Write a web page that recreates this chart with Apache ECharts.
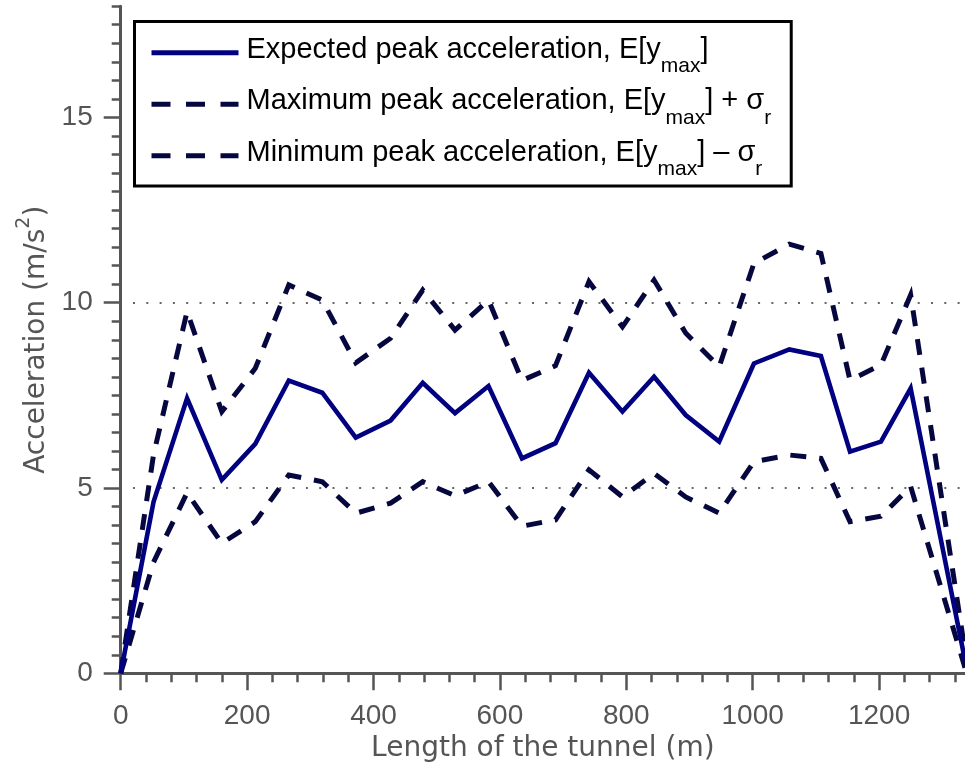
<!DOCTYPE html>
<html>
<head>
<meta charset="utf-8">
<script src="https://cdn.jsdelivr.net/npm/echarts@6/dist/echarts.min.js"></script>
<style>
  html, body { margin: 0; padding: 0; background: #ffffff; }
  #chart { width: 965px; height: 772px; }
</style>
</head>
<body>
<div id="chart"></div>
<script>
// Position along the tunnel (m)
const distance = [0, 52, 105, 160, 213, 266, 319, 372, 427, 478, 529, 582, 635, 688, 741, 794, 844, 894, 947, 1002, 1058, 1108, 1154, 1203, 1250, 1336];

// Peak acceleration (m/s^2)
const expectedPeak = [0, 4.63, 7.42, 5.22, 6.19, 7.90, 7.57, 6.36, 6.82, 7.84, 7.02, 7.75, 5.80, 6.21, 8.11, 7.06, 8.00, 6.97, 6.25, 8.36, 8.74, 8.56, 5.98, 6.25, 7.69, 0.35];
const maximumPeak  = [0, 5.90, 9.76, 7.06, 8.23, 10.48, 10.07, 8.38, 9.04, 10.34, 9.26, 10.07, 7.90, 8.30, 10.57, 9.35, 10.61, 9.18, 8.27, 11.06, 11.58, 11.33, 7.91, 8.32, 10.21, 0.60];
const minimumPeak  = [0, 3.00, 4.87, 3.51, 4.09, 5.35, 5.17, 4.32, 4.59, 5.17, 4.79, 5.17, 3.97, 4.14, 5.49, 4.76, 5.39, 4.76, 4.32, 5.71, 5.89, 5.80, 4.09, 4.24, 5.04, 0.15];

// Axis ticks
const xMajorTicks = [0, 200, 400, 600, 800, 1000, 1200];
const yMajorTicks = [0, 5, 10, 15];
const xMinorStep = 40;
const yMinorStep = 0.5;
const xMax = 1336;
const yMax = 18;

const seriesNames = [
  'Expected peak acceleration',
  'Maximum peak acceleration',
  'Minimum peak acceleration'
];
const legendLabels = [
  '{t|Expected peak acceleration, E[y}{sub|max}{t|]}',
  '{t|Maximum peak acceleration, E[y}{sub|max}{t|] + σ}{sub|r}',
  '{t|Minimum peak acceleration, E[y}{sub|max}{t|] – σ}{sub|r}'
];

const xMinorTicks = [];
for (let v = xMinorStep; v < xMax; v += xMinorStep) {
  if (v % 200 !== 0) xMinorTicks.push(v);
}
const yMinorTicks = [];
for (let v = yMinorStep; v <= yMax + 1e-9; v += yMinorStep) {
  const r = Math.round(v * 10) / 10;
  if (r % 5 !== 0) yMinorTicks.push(r);
}

const solidColor = '#000080';
const dashColor = '#07073f';
const axisColor = '#555555';
const dashPattern = [16, 13];
const lineW = 5;

// Legend keys drawn as filled strips: one bar for the solid line, three for the dashed ones
const solidKey = 'path://M0,0H87V5H0Z';
const dashedKey = 'path://M0,0H19V5H0Z M34.5,0H53.5V5H34.5Z M69,0H87V5H69Z';

const pairs = vals => distance.map((d, i) => [d, vals[i]]);

const chart = echarts.init(document.getElementById('chart'), null, { renderer: 'canvas' });

const labelFont = 'Liberation Sans';
const titleFont = 'DejaVu Sans';

chart.setOption({
  animation: false,
  backgroundColor: '#ffffff',
  grid: {
    left: 120.7, right: 0, top: 6.2, bottom: 98.7,
    containLabel: false,
    outerBoundsMode: 'none'
  },
  legend: {
    orient: 'vertical',
    left: 134.5,
    top: 21.5,
    padding: [13.7, 20, 5.8, 17],
    itemGap: 9.5,
    itemWidth: 87,
    itemHeight: 5,
    symbolKeepAspect: false,
    selectedMode: false,
    backgroundColor: '#ffffff',
    borderColor: '#000000',
    borderWidth: 3,
    borderRadius: 0,
    data: [
      { name: seriesNames[0], icon: solidKey, itemStyle: { color: solidColor, borderWidth: 0 } },
      { name: seriesNames[1], icon: dashedKey, itemStyle: { color: dashColor, borderWidth: 0 } },
      { name: seriesNames[2], icon: dashedKey, itemStyle: { color: dashColor, borderWidth: 0 } }
    ],
    formatter: name => legendLabels[seriesNames.indexOf(name)],
    textStyle: {
      fontFamily: labelFont,
      fontSize: 29,
      color: '#000000',
      padding: [0, 0, 0, 3],
      rich: {
        t: { fontFamily: labelFont, fontSize: 29, lineHeight: 35, verticalAlign: 'top', color: '#000000' },
        sub: { fontFamily: labelFont, fontSize: 21, lineHeight: 21, padding: [21, 0, 0, 0], verticalAlign: 'top', color: '#000000' }
      }
    }
  },
  xAxis: [
    {
      type: 'value',
      min: 0,
      max: xMax,
      position: 'bottom',
      name: 'Length of the tunnel (m)',
      nameLocation: 'middle',
      nameGap: 61,
      nameTextStyle: { fontFamily: titleFont, fontSize: 28, color: axisColor },
      axisLine: { show: true, onZero: false, lineStyle: { color: axisColor, width: 3 } },
      axisTick: { show: true, customValues: xMajorTicks, length: 17, lineStyle: { color: axisColor, width: 2.5 } },
      axisLabel: { customValues: xMajorTicks, formatter: v => String(v), margin: 29, color: axisColor, fontFamily: labelFont, fontSize: 28 },
      splitLine: { show: false }
    },
    {
      type: 'value',
      min: 0,
      max: xMax,
      position: 'bottom',
      axisLine: { show: false },
      axisTick: { show: true, customValues: xMinorTicks, length: 9, lineStyle: { color: axisColor, width: 2.5 } },
      axisLabel: { show: false },
      splitLine: { show: false }
    }
  ],
  yAxis: [
    {
      type: 'value',
      min: 0,
      max: yMax,
      position: 'left',
      name: '{t|Acceleration (m/s}{sup|2}{t|)}',
      nameLocation: 'middle',
      nameGap: 78,
      nameRotate: 90,
      nameTextStyle: {
        fontFamily: titleFont, fontSize: 28, color: axisColor,
        rich: {
          t: { fontFamily: titleFont, fontSize: 28, lineHeight: 28, padding: [8, 0, 0, 0], verticalAlign: 'top', color: axisColor },
          sup: { fontFamily: titleFont, fontSize: 19, lineHeight: 19, verticalAlign: 'top', color: axisColor }
        }
      },
      axisLine: { show: true, onZero: false, lineStyle: { color: axisColor, width: 3 } },
      axisTick: { show: true, customValues: yMajorTicks, length: 17, lineStyle: { color: axisColor, width: 2.5 } },
      axisLabel: { customValues: yMajorTicks, formatter: v => String(v), margin: 28, color: axisColor, fontFamily: labelFont, fontSize: 28 },
      splitLine: {
        show: true,
        showMaxLine: false,
        lineStyle: { color: '#666666', width: 2, type: [2, 11.3], dashOffset: 1 }
      }
    },
    {
      type: 'value',
      min: 0,
      max: yMax,
      position: 'left',
      axisLine: { show: false },
      axisTick: { show: true, customValues: yMinorTicks, length: 9, lineStyle: { color: axisColor, width: 2.5 } },
      axisLabel: { show: false },
      splitLine: { show: false }
    }
  ],
  series: [
    {
      name: seriesNames[1],
      type: 'line',
      data: pairs(maximumPeak),
      symbol: 'none',
      clip: true,
      z: 3,
      lineStyle: { color: dashColor, width: lineW, type: dashPattern, cap: 'butt', join: 'miter' },
      itemStyle: { color: dashColor }
    },
    {
      name: seriesNames[2],
      type: 'line',
      data: pairs(minimumPeak),
      symbol: 'none',
      clip: true,
      z: 3,
      lineStyle: { color: dashColor, width: lineW, type: dashPattern, cap: 'butt', join: 'miter' },
      itemStyle: { color: dashColor }
    },
    {
      name: seriesNames[0],
      type: 'line',
      data: pairs(expectedPeak),
      symbol: 'none',
      clip: true,
      z: 4,
      lineStyle: { color: solidColor, width: 4.6, type: 'solid', join: 'miter' },
      itemStyle: { color: solidColor }
    }
  ]
});
</script>
</body>
</html>
